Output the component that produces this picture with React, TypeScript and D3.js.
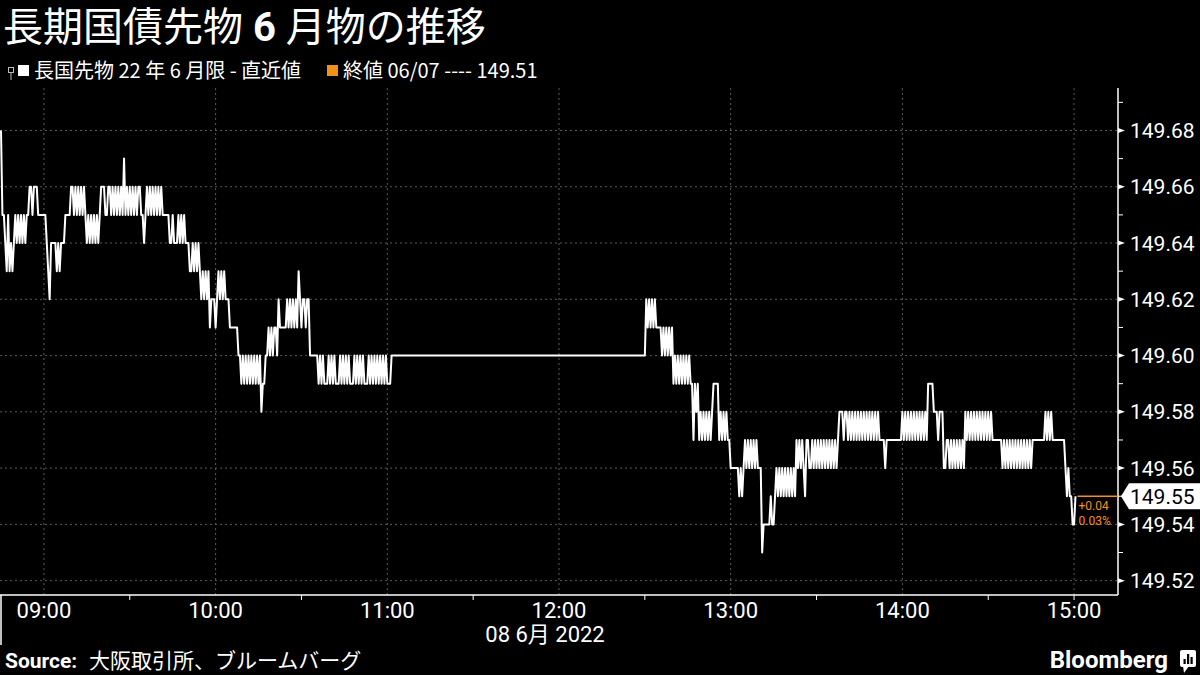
import React from "react";
import * as d3 from "d3";

const W = 1200;
const H = 675;

const TITLE_A = "長期国債先物";
const TITLE_NUM = " 6 ";
const TITLE_B = "月物の推移";
const LEGEND_SERIES = "長国先物 22 年 6 月限 - 直近値";
const LEGEND_CLOSE = "終値 06/07 ---- 149.51";
const SOURCE_LABEL = "Source:";
const SOURCE_TEXT = "大阪取引所、ブルームバーグ";
const DATE_LABEL = "08 6月 2022";
const BRAND = "Bloomberg";
const PREV_CLOSE = 149.51;

// 30-second prices from 08:45 (two values per minute)
const morningStart = "08:45";
const morningPrices = [
  149.68, 149.65, 149.65, 149.64, 149.63, 149.65, 149.63, 149.64, 149.63, 149.64, // 08:45
  149.65, 149.64, 149.65, 149.64, 149.65, 149.64, 149.65, 149.64, 149.65, 149.65, // 08:50
  149.66, 149.66, 149.65, 149.66, 149.66, 149.66, 149.65, 149.65, 149.65, 149.65, // 08:55
  149.65, 149.65, 149.64, 149.63, 149.62, 149.64, 149.64, 149.64, 149.64, 149.63, // 09:00
  149.64, 149.63, 149.64, 149.64, 149.64, 149.65, 149.65, 149.65, 149.65, 149.66, // 09:05
  149.66, 149.65, 149.66, 149.65, 149.66, 149.65, 149.66, 149.65, 149.66, 149.65, // 09:10
  149.64, 149.65, 149.64, 149.65, 149.64, 149.65, 149.64, 149.65, 149.64, 149.65, // 09:15
  149.66, 149.66, 149.66, 149.65, 149.65, 149.66, 149.66, 149.65, 149.66, 149.65, // 09:20
  149.66, 149.65, 149.66, 149.65, 149.66, 149.65, 149.67, 149.65, 149.66, 149.65, // 09:25
  149.66, 149.65, 149.66, 149.65, 149.66, 149.65, 149.66, 149.66, 149.65, 149.65, // 09:30
  149.64, 149.65, 149.66, 149.65, 149.66, 149.65, 149.66, 149.65, 149.66, 149.65, // 09:35
  149.66, 149.65, 149.66, 149.65, 149.65, 149.65, 149.65, 149.65, 149.64, 149.64, // 09:40
  149.65, 149.64, 149.64, 149.64, 149.65, 149.64, 149.65, 149.64, 149.65, 149.64, // 09:45
  149.64, 149.64, 149.63, 149.63, 149.64, 149.63, 149.64, 149.63, 149.64, 149.63, // 09:50
  149.62, 149.63, 149.62, 149.63, 149.62, 149.63, 149.61, 149.62, 149.62, 149.62, // 09:55
  149.61, 149.62, 149.63, 149.62, 149.63, 149.62, 149.63, 149.62, 149.62, 149.62, // 10:00
  149.61, 149.61, 149.61, 149.61, 149.61, 149.61, 149.6, 149.6, 149.59, 149.6, // 10:05
  149.59, 149.6, 149.59, 149.6, 149.59, 149.6, 149.59, 149.6, 149.59, 149.6, // 10:10
  149.59, 149.6, 149.58, 149.59, 149.59, 149.6, 149.6, 149.61, 149.6, 149.61, // 10:15
  149.6, 149.61, 149.61, 149.6, 149.62, 149.61, 149.61, 149.61, 149.61, 149.61, // 10:20
  149.62, 149.61, 149.62, 149.61, 149.62, 149.61, 149.62, 149.61, 149.63, 149.62, // 10:25
  149.61, 149.62, 149.62, 149.61, 149.62, 149.62, 149.6, 149.6, 149.6, 149.6, // 10:30
  149.6, 149.6, 149.59, 149.6, 149.59, 149.6, 149.59, 149.59, 149.59, 149.6, // 10:35
  149.59, 149.6, 149.59, 149.6, 149.59, 149.59, 149.59, 149.6, 149.59, 149.6, // 10:40
  149.59, 149.6, 149.59, 149.6, 149.59, 149.59, 149.59, 149.6, 149.59, 149.6, // 10:45
  149.59, 149.6, 149.59, 149.6, 149.59, 149.59, 149.59, 149.6, 149.59, 149.6, // 10:50
  149.59, 149.6, 149.59, 149.6, 149.59, 149.6, 149.59, 149.6, 149.59, 149.6, // 10:55
  149.59, 149.59, 149.59, 149.6, 149.6, 149.6, // 11:00
];

// 30-second prices from 12:30 (two values per minute)
const afternoonStart = "12:30";
const afternoonPrices = [
  149.6, 149.62, 149.61, 149.62, 149.61, 149.62, 149.61, 149.62, 149.61, 149.61, // 12:30
  149.61, 149.61, 149.6, 149.61, 149.6, 149.61, 149.6, 149.61, 149.6, 149.61, // 12:35
  149.59, 149.6, 149.59, 149.6, 149.59, 149.6, 149.59, 149.6, 149.59, 149.6, // 12:40
  149.59, 149.6, 149.59, 149.59, 149.57, 149.59, 149.58, 149.59, 149.57, 149.58, // 12:45
  149.57, 149.58, 149.57, 149.58, 149.57, 149.58, 149.57, 149.58, 149.59, 149.59, // 12:50
  149.59, 149.59, 149.57, 149.58, 149.57, 149.58, 149.57, 149.58, 149.57, 149.57, // 12:55
  149.56, 149.56, 149.56, 149.56, 149.56, 149.56, 149.55, 149.56, 149.55, 149.56, // 13:00
  149.57, 149.56, 149.57, 149.56, 149.57, 149.56, 149.57, 149.56, 149.57, 149.56, // 13:05
  149.56, 149.56, 149.53, 149.54, 149.54, 149.54, 149.54, 149.54, 149.55, 149.54, // 13:10
  149.54, 149.55, 149.56, 149.55, 149.56, 149.55, 149.56, 149.55, 149.56, 149.55, // 13:15
  149.56, 149.55, 149.56, 149.55, 149.56, 149.55, 149.57, 149.56, 149.57, 149.56, // 13:20
  149.57, 149.56, 149.55, 149.57, 149.57, 149.56, 149.56, 149.57, 149.56, 149.57, // 13:25
  149.56, 149.57, 149.56, 149.57, 149.56, 149.57, 149.56, 149.57, 149.56, 149.57, // 13:30
  149.56, 149.57, 149.56, 149.57, 149.56, 149.57, 149.58, 149.58, 149.58, 149.57, // 13:35
  149.58, 149.58, 149.57, 149.58, 149.57, 149.58, 149.57, 149.58, 149.57, 149.58, // 13:40
  149.57, 149.58, 149.57, 149.58, 149.57, 149.58, 149.57, 149.58, 149.57, 149.58, // 13:45
  149.57, 149.58, 149.57, 149.58, 149.57, 149.57, 149.57, 149.57, 149.56, 149.57, // 13:50
  149.57, 149.57, 149.57, 149.57, 149.57, 149.57, 149.57, 149.57, 149.57, 149.57, // 13:55
  149.58, 149.57, 149.58, 149.57, 149.58, 149.57, 149.58, 149.57, 149.58, 149.57, // 14:00
  149.58, 149.57, 149.58, 149.57, 149.58, 149.57, 149.58, 149.57, 149.59, 149.59, // 14:05
  149.59, 149.59, 149.58, 149.58, 149.58, 149.57, 149.58, 149.58, 149.58, 149.56, // 14:10
  149.56, 149.57, 149.57, 149.56, 149.57, 149.56, 149.57, 149.56, 149.57, 149.56, // 14:15
  149.57, 149.56, 149.57, 149.56, 149.58, 149.57, 149.58, 149.57, 149.58, 149.57, // 14:20
  149.58, 149.57, 149.58, 149.57, 149.58, 149.57, 149.58, 149.57, 149.58, 149.57, // 14:25
  149.58, 149.57, 149.58, 149.57, 149.57, 149.57, 149.57, 149.57, 149.57, 149.57, // 14:30
  149.56, 149.57, 149.56, 149.57, 149.56, 149.57, 149.56, 149.57, 149.56, 149.57, // 14:35
  149.56, 149.57, 149.56, 149.57, 149.56, 149.57, 149.56, 149.57, 149.56, 149.57, // 14:40
  149.56, 149.57, 149.57, 149.57, 149.57, 149.57, 149.57, 149.57, 149.57, 149.57, // 14:45
  149.58, 149.57, 149.58, 149.57, 149.58, 149.57, 149.57, 149.57, 149.57, 149.57, // 14:50
  149.57, 149.57, 149.57, 149.57, 149.56, 149.55, 149.56, 149.55, 149.55, 149.54, // 14:55
  149.54, 149.55, // 15:00
];

const yMajorTicks = [149.52, 149.54, 149.56, 149.58, 149.6, 149.62, 149.64, 149.66, 149.68];
const yMinorTicks = [149.53, 149.55, 149.57, 149.59, 149.61, 149.63, 149.65, 149.67, 149.69];
const xHourTicks = ["09:00", "10:00", "11:00", "12:00", "13:00", "14:00", "15:00"];
const xMinorTicks = ["09:30", "10:30", "11:30", "12:30", "13:30", "14:30", "15:00"];
const xDomain = ["08:45", "15:15"];
const yDomain = [149.5149, 149.6951];

const ORANGE = "#f39019";
const GRID = "#5a5a5a";
const LATIN = "Roboto, 'Noto Sans CJK JP', sans-serif";
const CJK = "'Noto Sans CJK JP', Roboto, sans-serif";

const toDate = (hm: string) =>
  new Date(2022, 5, 8, +hm.slice(0, 2), +hm.slice(3, 5));

type P = { t: Date; v: number };

export default function App() {
  const plotL = 1;
  const plotR = 1117;
  const plotT = 88;
  const plotB = 595;
  const axisX = 1118;

  const x = d3.scaleTime().domain(xDomain.map(toDate)).range([plotL, plotR]);
  const y = d3.scaleLinear().domain(yDomain).range([plotB, plotT]);

  const pts: P[] = [
    ...morningPrices.map((v, i) => ({ t: d3.timeSecond.offset(toDate(morningStart), i * 30), v })),
    ...afternoonPrices.map((v, i) => ({ t: d3.timeSecond.offset(toDate(afternoonStart), i * 30), v })),
  ];
  const line = d3
    .line<P>()
    .x((d) => x(d.t))
    .y((d) => y(d.v));

  const last = pts[pts.length - 1];
  const lastX = x(last.t);
  const lastY = y(last.v);
  const chg = last.v - PREV_CLOSE;
  const pct = (chg / PREV_CLOSE) * 100;
  const fmtTime = d3.timeFormat("%H:%M");

  return (
    <svg
      width={W}
      height={H}
      viewBox={`0 0 ${W} ${H}`}
      style={{ position: "absolute", left: 0, top: 0, background: "#000", display: "block" }}
    >
      <rect x={0} y={0} width={W} height={H} fill="#000" />

      {/* Title */}
      <text x={3} y={41} fill="#fff" fontFamily={CJK} fontSize={40}>
        <tspan>{TITLE_A}</tspan>
        <tspan fontFamily="Roboto, sans-serif" fontWeight={700} style={{ whiteSpace: "pre" }}>
          {TITLE_NUM}
        </tspan>
        <tspan>{TITLE_B}</tspan>
      </text>

      {/* Legend */}
      <g>
        <rect x={8.5} y={67.5} width={5} height={5} fill="none" stroke="#bbb" strokeWidth={1} />
        <line x1={11} y1={73} x2={11} y2={80} stroke="#bbb" strokeWidth={1} />
        <rect x={18} y={65} width={11} height={11} fill="#fff" />
        <text x={34} y={78} fill="#fff" fontFamily={CJK} fontSize={20}>
          {LEGEND_SERIES}
        </text>
        <rect x={327} y={65} width={11} height={11} fill={ORANGE} />
        <text x={343} y={78} fill="#fff" fontFamily={CJK} fontSize={20}>
          {LEGEND_CLOSE}
        </text>
      </g>

      {/* Grid */}
      <g>
        {yMajorTicks.map((v) => (
          <line
            key={"gy" + v}
            x1={0}
            x2={axisX}
            y1={y(v)}
            y2={y(v)}
            stroke={GRID}
            strokeDasharray="2,3"
            strokeWidth={1}
          />
        ))}
        {xHourTicks.map((h) => (
          <line
            key={"gx" + h}
            x1={x(toDate(h))}
            x2={x(toDate(h))}
            y1={plotT}
            y2={plotB}
            stroke={GRID}
            strokeDasharray="2,3"
            strokeWidth={1}
          />
        ))}
      </g>

      {/* Data line */}
      <path d={line(pts) || ""} fill="none" stroke="#fff" strokeWidth={2} strokeLinejoin="round" />

      {/* X axis */}
      <line x1={0} x2={axisX} y1={plotB} y2={plotB} stroke="#fff" strokeWidth={1.5} />
      {xMinorTicks.map((h) => (
        <line
          key={"xt" + h}
          x1={x(toDate(h))}
          x2={x(toDate(h))}
          y1={plotB}
          y2={plotB + 5}
          stroke="#fff"
          strokeWidth={1}
        />
      ))}
      {xHourTicks.map((h) => (
        <text
          key={"xl" + h}
          x={x(toDate(h))}
          y={618}
          fill="#fff"
          fontFamily={LATIN}
          fontSize={22}
          textAnchor="middle"
        >
          {fmtTime(toDate(h))}
        </text>
      ))}
      <line x1={1} x2={1} y1={plotB} y2={645} stroke="#fff" strokeWidth={1.5} />
      <text x={545} y={642} fill="#fff" fontFamily={LATIN} fontSize={22} textAnchor="middle">
        {DATE_LABEL}
      </text>

      {/* Y axis */}
      <line x1={axisX} x2={axisX} y1={plotT} y2={plotB} stroke="#fff" strokeWidth={1.5} />
      {yMinorTicks
        .filter((v) => y(v) >= plotT && y(v) <= plotB)
        .map((v) => (
          <line key={"ym" + v} x1={axisX} x2={axisX + 5} y1={y(v)} y2={y(v)} stroke="#fff" strokeWidth={1} />
        ))}
      {yMajorTicks.map((v) => (
        <g key={"yl" + v}>
          <path
            d={`M${axisX},${y(v) - 2.5}L${axisX + 7},${y(v)}L${axisX},${y(v) + 2.5}Z`}
            fill="#fff"
          />
          <text x={1130} y={y(v)} dy="0.36em" fill="#fff" fontFamily={LATIN} fontSize={21}>
            {d3.format(".2f")(v)}
          </text>
        </g>
      ))}

      {/* Last value annotation */}
      <line x1={lastX + 2} x2={axisX} y1={lastY} y2={lastY} stroke={ORANGE} strokeWidth={1.5} />
      <text x={lastX + 3} y={510} fill={ORANGE} fontFamily={LATIN} fontSize={12}>
        {d3.format("+.2f")(chg)}
      </text>
      <text x={lastX + 3} y={525} fill={ORANGE} fontFamily={LATIN} fontSize={12}>
        {d3.format(".2f")(pct) + "%"}
      </text>
      <path
        d={`M${axisX + 3},${lastY}L${axisX + 11},${lastY - 13}L${W},${lastY - 13}L${W},${lastY + 13}L${axisX + 11},${lastY + 13}Z`}
        fill="#fff"
      />
      <text x={1130} y={lastY} dy="0.36em" fill="#000" fontFamily={LATIN} fontSize={21}>
        {d3.format(".2f")(last.v)}
      </text>

      {/* Footer */}
      <text x={5} y={668} fill="#fff" fontFamily={LATIN} fontSize={21} fontWeight={700}>
        {SOURCE_LABEL}
      </text>
      <text x={89} y={668} fill="#fff" fontFamily={CJK} fontSize={21}>
        {SOURCE_TEXT}
      </text>
      <text x={1168} y={668} fill="#fff" fontFamily={LATIN} fontSize={24} fontWeight={700} textAnchor="end">
        {BRAND}
      </text>
      <g>
        <rect x={1180} y={650} width={16} height={17} rx={2} fill="#fff" />
        <path d="M1183,666L1189,666L1184,673Z" fill="#fff" />
        <rect x={1183.5} y={659} width={2.2} height={5} fill="#000" />
        <rect x={1187} y={654} width={2.2} height={10} fill="#000" />
        <rect x={1190.5} y={657} width={2.2} height={7} fill="#000" />
      </g>
    </svg>
  );
}
